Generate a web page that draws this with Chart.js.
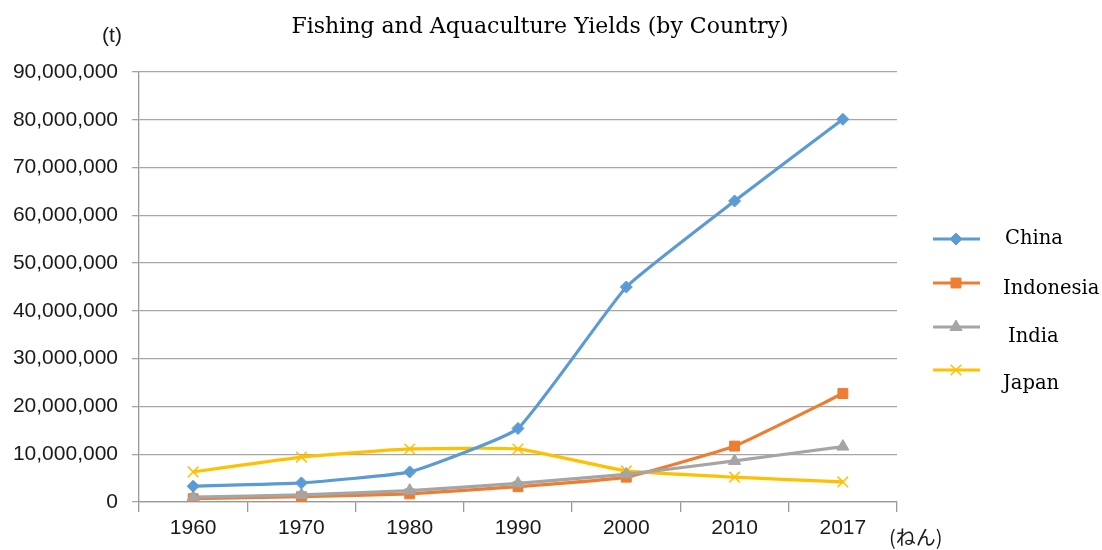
<!DOCTYPE html>
<html>
<head>
<meta charset="utf-8">
<script src="https://cdn.jsdelivr.net/npm/chart.js@4"></script>
<style>
html,body{margin:0;padding:0;background:#fff;}
#wrap{width:1102px;height:550px;position:relative;}
</style>
</head>
<body>
<div id="wrap"><canvas id="c" width="1102" height="550"></canvas></div>
<script>
const years = ['1960','1970','1980','1990','2000','2010','2017'];
const china = [3300000, 4000000, 6300000, 15400000, 45000000, 63000000, 80100000];
const indonesia = [700000, 1100000, 1700000, 3200000, 5200000, 11700000, 22700000];
const india = [1000000, 1500000, 2400000, 3900000, 5800000, 8600000, 11600000];
const japan = [6300000, 9400000, 11100000, 11100000, 6500000, 5200000, 4200000];
const seriesNames = ['China','Indonesia','India','Japan'];
const yTicks = [0,10000000,20000000,30000000,40000000,50000000,60000000,70000000,80000000,90000000];
const titleText = 'Fishing and Aquaculture Yields (by Country)';
const yUnit = '(t)';
const xUnit = '(ねん)';

const colors = ['#5b9bd5','#ed7d31','#a5a5a5','#ffc000'];
const styles = ['rectRot','rect','triangle','crossRot'];
const radii = [6,7,7,7.5];
const values = [china, indonesia, india, japan];

const datasets = values.map((v,i)=>({
  label: seriesNames[i],
  data: v,
  borderColor: colors[i],
  backgroundColor: colors[i],
  borderWidth: 3.2,
  pointStyle: styles[i],
  pointRadius: radii[i],
  pointBorderWidth: i===3 ? 1.5 : 1,
  pointBorderColor: colors[i],
  pointBackgroundColor: colors[i],
  tension: 0.12,
  fill: false
}));
datasets[0].order = 0; datasets[1].order = 2; datasets[2].order = 1; datasets[3].order = 3;

const extras = {
  id: 'extras',
  afterDraw(chart){
    const ctx = chart.ctx;
    ctx.save();
    ctx.fillStyle = '#000';
    ctx.font = '22px "DejaVu Serif", "Liberation Serif", serif';
    ctx.textAlign = 'center'; ctx.textBaseline = 'middle';
    ctx.fillText(titleText, 540, 27);
    ctx.fillStyle = '#1a1a1a';
    ctx.font = '21px "Liberation Sans", Arial, sans-serif';
    ctx.fillText(yUnit, 112, 36);
    ctx.font = '20px "Noto Sans CJK JP", sans-serif';
    ctx.textAlign = 'left';
    ctx.fillText(xUnit, 889, 537);
    const ly = [239, 283, 327, 370];
    const ty = [239, 289, 337, 384];
    const tx = [1005, 1003, 1008, 1003];
    for (let i=0;i<4;i++){
      ctx.strokeStyle = colors[i]; ctx.lineWidth = 3.2;
      ctx.beginPath(); ctx.moveTo(933, ly[i]); ctx.lineTo(980, ly[i]); ctx.stroke();
      ctx.fillStyle = colors[i]; ctx.strokeStyle = colors[i];
      ctx.lineWidth = i===3 ? 1.5 : 1;
      Chart.helpers.drawPoint(ctx, {pointStyle: styles[i], radius: radii[i], rotation: 0, borderWidth: ctx.lineWidth}, 956, ly[i]);
      ctx.fillStyle = '#000';
      ctx.font = '19.5px "DejaVu Serif", "Liberation Serif", serif';
      ctx.textAlign = 'left'; ctx.textBaseline = 'middle';
      ctx.fillText(seriesNames[i], tx[i], ty[i]);
    }
    ctx.restore();
  }
};

new Chart(document.getElementById('c'), {
  type: 'line',
  data: { labels: years, datasets },
  options: {
    responsive: false,
    animation: false,
    devicePixelRatio: 1,
    layout: { padding: { left: 0, right: 205, top: 72, bottom: 0 } },
    plugins: { legend: { display: false }, title: { display: false }, tooltip: { enabled: false } },
    scales: {
      x: {
        offset: true,
        grid: { offset: true, drawOnChartArea: false, drawTicks: true, tickLength: 10, color: '#999999', lineWidth: 1.3 },
        border: { color: '#999999', width: 1.3 },
        ticks: { color: '#1a1a1a', font: { family: '"Liberation Sans", Arial, sans-serif', size: 21 }, padding: 4, maxRotation: 0 },
        afterFit(s){ s.height = 48; }
      },
      y: {
        min: 0, max: 90000000,
        afterBuildTicks(s){ s.ticks = yTicks.map(v=>({value:v})); },
        grid: { color: '#a6a6a6', lineWidth: 1.3, tickLength: 7, drawTicks: true },
        border: { color: '#999999', width: 1.3 },
        ticks: { color: '#1a1a1a', font: { family: '"Liberation Sans", Arial, sans-serif', size: 21 }, padding: 14,
          callback: v => Number(v).toLocaleString('en-US') },
        afterFit(s){ s.width = 139; }
      }
    }
  },
  plugins: [extras]
});
</script>
</body>
</html>
